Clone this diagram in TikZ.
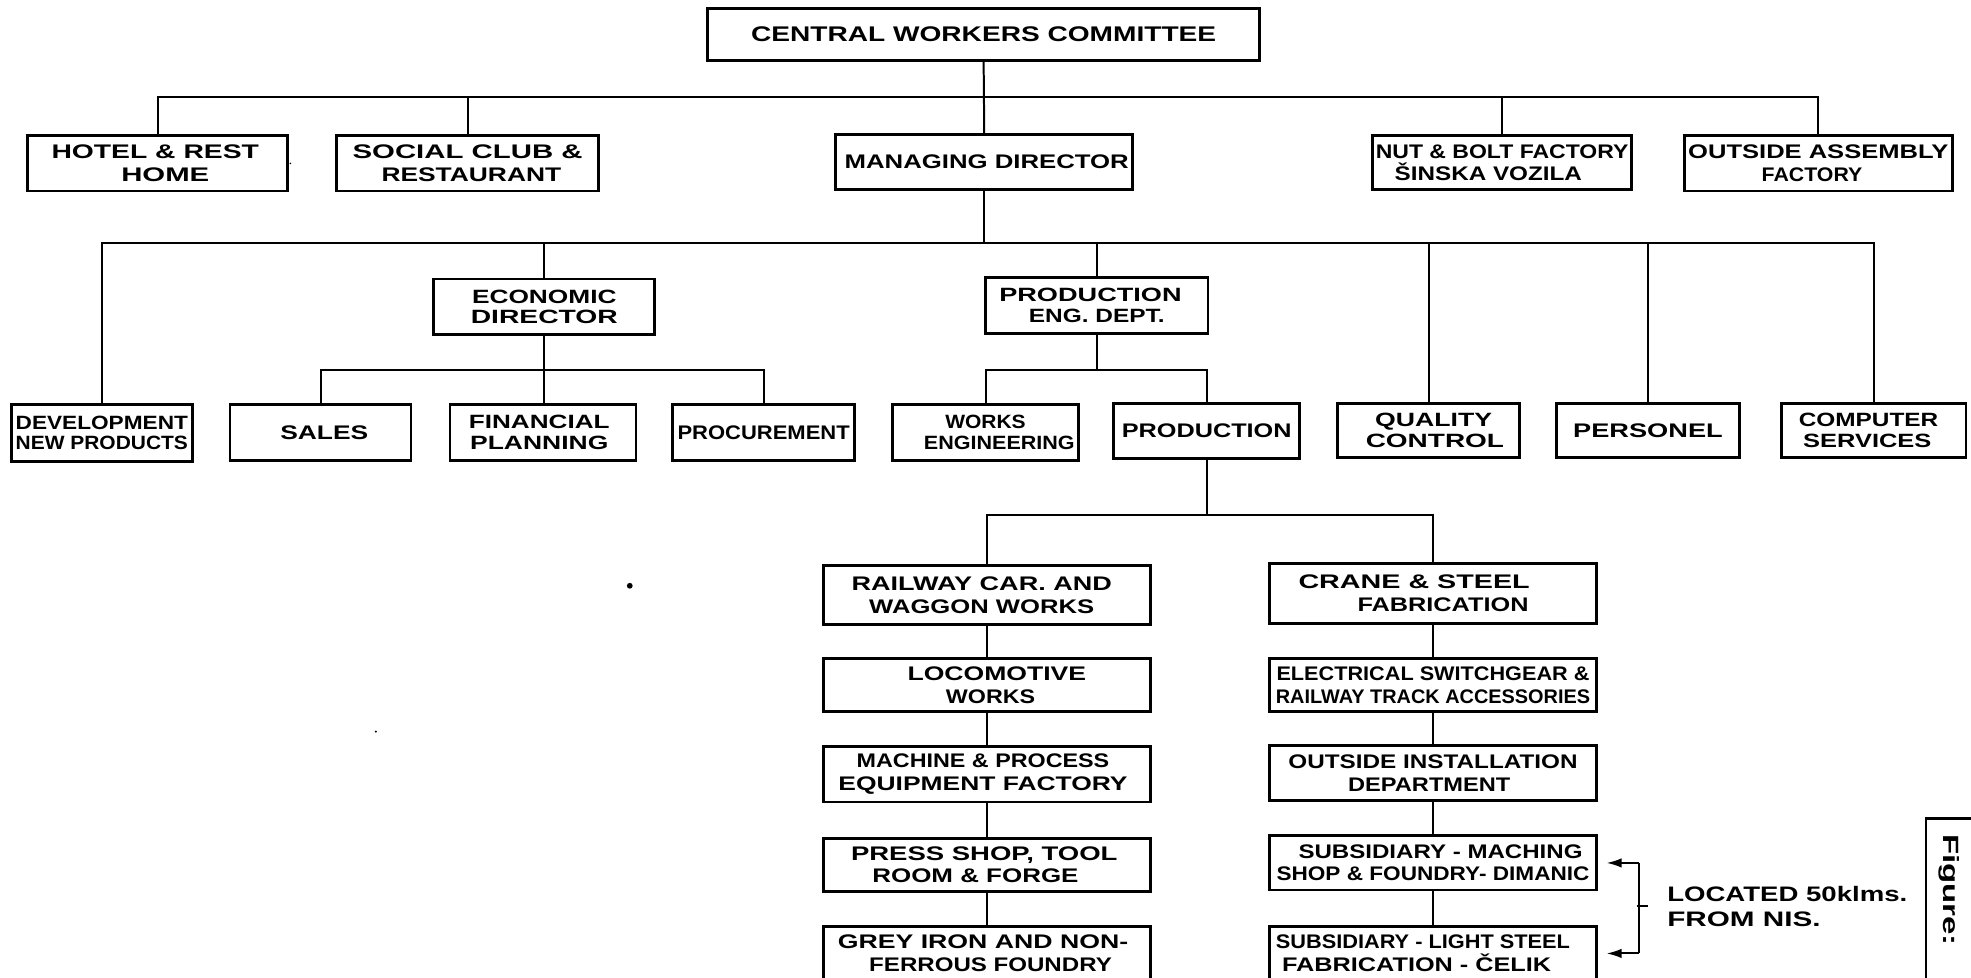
\documentclass[tikz,border=0pt]{standalone}
\usepackage{fontspec}
\setmainfont{Liberation Sans}
\usetikzlibrary{arrows.meta}

% one drawing unit
\newlength\px
\setlength\px{0.2mm}
% a text line stretched to a given width (in drawing units), optionally shifted
\newcommand\fw[3][0]{\hspace*{\dimexpr\px*(#1)*2\relax}\resizebox{\dimexpr\px*#2\relax}{\height}{#3}}
% a box given by its corners: [style]{name}{x1}{y1}{x2}{y2}{text}
\newcommand\BX[7][]{\node[orgbox,#1,minimum width={(#5-#3)*0.2mm},minimum height={(#6-#4)*0.2mm}] (#2) at ({(#3+#5)/2},{(#4+#6)/2}) {#7};}

\tikzset{
  orgbox/.style={draw, line width=1.3pt, inner sep=0pt, outer sep=0pt, align=center,
    font=\fontsize{8.9}{10.2}\selectfont\bfseries},
  tight/.style={font=\fontsize{8.7}{9.3}\selectfont\bfseries},
  big/.style={font=\fontsize{9.6}{11}\selectfont\bfseries},
  link/.style={line width=0.9pt},
  pointer/.style={line width=0.9pt, -{Latex[length=2.4mm,width=1.5mm]}, shorten >=1.6mm},
  note/.style={inner sep=0pt, anchor=base west, font=\fontsize{9.5}{11}\selectfont\bfseries}
}

\begin{document}
\begin{tikzpicture}[x=0.2mm,y=-0.2mm]
\useasboundingbox (0,0) rectangle (1568,778);

% top level
\BX[big]{cwc}{563}{7}{1002}{48}{\fw{370}{CENTRAL WORKERS COMMITTEE}}

\BX{hotel}{22}{108}{229}{152}{\fw[-2]{165}{HOTEL \& REST}\\\fw[6]{70}{HOME}}
\BX{social}{268}{108}{476}{152}{\fw{183}{SOCIAL CLUB \&}\\\fw[3]{143}{RESTAURANT}}
\BX{md}{665}{107}{901}{151}{\fw[2]{226}{MANAGING DIRECTOR}}
\BX{nut}{1092}{108}{1298}{151}{\fw{201}{NUT \& BOLT FACTORY}\\\fw[-11]{149}{ŠINSKA VOZILA}}
\BX{outside}{1340}{108}{1553}{152}{\fw{207}{OUTSIDE ASSEMBLY}\\\fw[-5]{80}{FACTORY}}

% directors
\BX[tight]{econ}{345}{222}{521}{266}{\fw{115}{ECONOMIC}\\\fw{117}{DIRECTOR}}
\BX[tight]{peng}{784}{221}{961}{265}{\fw[-5]{145}{PRODUCTION}\\\fw{108}{ENG. DEPT.}}

% departments
\BX[tight]{dev}{9}{322}{153}{367}{\fw{137}{DEVELOPMENT}\\\fw{137}{NEW PRODUCTS}}
\BX{sales}{183}{322}{327}{366}{\fw[3]{70}{SALES}}
\BX[tight]{fin}{358}{322}{506}{366}{\fw[-3]{112}{FINANCIAL}\\\fw[-3]{110}{PLANNING}}
\BX{proc}{535}{322}{680}{366}{\fw{137}{PROCUREMENT}}
\BX[tight]{works}{710}{322}{858}{366}{\fw{64}{WORKS}\\\fw[11]{120}{ENGINEERING}}
\BX{prod}{886}{321}{1034}{365}{\fw{135}{PRODUCTION}}
\BX[tight]{qc}{1064}{321}{1209}{364}{\fw[4]{93}{QUALITY}\\\fw[5]{110}{CONTROL}}
\BX{pers}{1238}{321}{1384}{364}{\fw{119}{PERSONEL}}
\BX[tight]{comp}{1417}{321}{1564}{364}{\fw[-4]{111}{COMPUTER}\\\fw[-5]{102}{SERVICES}}

% works, left column
\BX{rail}{655}{450}{915}{497}{\fw[-4]{207}{RAILWAY CAR. AND}\\\fw[-4]{179}{WAGGON WORKS}}
\BX{loco}{655}{524}{915}{566}{\fw[8]{142}{LOCOMOTIVE}\\\fw[3]{71}{WORKS}}
\BX{mach}{655}{594}{915}{638}{\fw[-3]{201}{MACHINE \& PROCESS}\\\fw[-3]{230}{EQUIPMENT FACTORY}}
\BX{press}{655}{667}{915}{709}{\fw[-2]{212}{PRESS SHOP, TOOL}\\\fw[-9]{164}{ROOM \& FORGE}}
\BX{grey}{655}{737}{915}{780}{\fw[-3]{231}{GREY IRON AND NON-}\\\fw[3]{193}{FERROUS FOUNDRY}}

% works, right column
\BX{crane}{1010}{448}{1270}{496}{\fw[-15]{184}{CRANE \& STEEL}\\\fw[8]{136}{FABRICATION}}
\BX{elec}{1010}{524}{1270}{566}{\fw{249}{ELECTRICAL SWITCHGEAR \&}\\\fw{250}{RAILWAY TRACK ACCESSORIES}}
\BX{inst}{1010}{593}{1270}{637}{\fw{230}{OUTSIDE INSTALLATION}\\\fw[-3]{129}{DEPARTMENT}}
\BX{dim}{1010}{665}{1270}{708}{\fw[6]{226}{SUBSIDIARY - MACHING}\\\fw{249}{SHOP \& FOUNDRY- DIMANIC}}
\BX{celik}{1010}{737}{1270}{780}{\fw[-8]{234}{SUBSIDIARY - LIGHT STEEL}\\\fw[-13]{214}{FABRICATION - ČELIK}}

% connecting lines
\coordinate (b1) at (782,77);
\coordinate (b2) at (782,193);
\coordinate (b3) at (432,294);
\coordinate (b4) at (873,294);
\coordinate (b5) at (960,410);

\draw[link] (cwc.south) -- (md.north);
\draw[link] (hotel.north) |- (b1) -| (outside.north);
\draw[link] (social.north) -- (social.north |- b1);
\draw[link] (nut.north) -- (nut.north |- b1);

\draw[link] (md.south) -- (md.south |- b2);
\draw[link] (dev.north) |- (b2) -| (comp.north);
\draw[link] (econ.north) -- (econ.north |- b2);
\draw[link] (peng.north) -- (peng.north |- b2);
\draw[link] (qc.north) -- (qc.north |- b2);
\draw[link] (pers.north) -- (pers.north |- b2);

\draw[link] (econ.south) -- (econ.south |- fin.north);
\draw[link] (sales.north) |- (b3) -| (proc.north);
\draw[link] (peng.south) -- (peng.south |- b4);
\draw[link] (works.north) |- (b4) -| (prod.north);

\draw[link] (prod.south) -- (prod.south |- b5);
\draw[link] (rail.north) |- (b5) -| (crane.north);
\draw[link] (rail.south) -- (loco.north) (loco.south) -- (mach.north)
  (mach.south) -- (press.north) (press.south) -- (grey.north);
\draw[link] (crane.south) -- (elec.north) (elec.south) -- (inst.north)
  (inst.south) -- (dim.north) (dim.south) -- (celik.north);

% bracket for the two subsidiaries
\coordinate (brk) at (1304,721);
\draw[link] (brk |- dim.east) -- (brk |- celik.east);
\draw[link] (brk) ++(-2,0) -- ++(9,0);
\draw[pointer] (brk |- dim.east) -- (dim.east);
\draw[pointer] (brk |- celik.east) -- (celik.east);
\node[note] (loc1) at (1326,717) {\fw{191}{LOCATED 50klms.}};
\node[note] (loc2) at (1326,737) {\fw{122}{FROM NIS.}};

% caption tab
\node[draw, line width=1.3pt, inner sep=0pt, anchor=north west,
  minimum width=20mm, minimum height=30mm] (figbox) at (1531,650) {};
\node[rotate=-90, inner sep=0pt, font=\fontsize{10}{11}\selectfont\bfseries]
  (figtxt) at (1551,708) {\fw{89}{Figure:}};

% specks
\fill (501,466) circle (2.3);
\fill (299,582) circle (0.9);
\fill (231,130) circle (0.7);
\end{tikzpicture}
\end{document}
